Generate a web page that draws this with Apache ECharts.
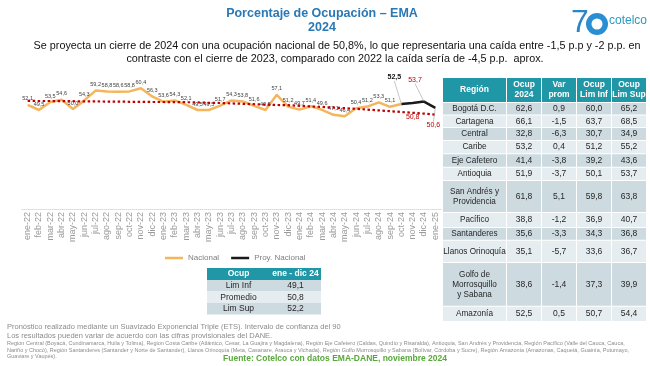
<!DOCTYPE html>
<html><head><meta charset="utf-8">
<script src="https://cdn.jsdelivr.net/npm/echarts@6/dist/echarts.min.js"></script>
<style>html,body{margin:0;padding:0;background:#fff}#c{width:650px;height:366px}</style>
</head><body><div id="c"></div>
<script>
// ---- data ----
const months = ['ene-22','feb-22','mar-22','abr-22','may-22','jun-22','jul-22','ago-22','sep-22','oct-22','nov-22','dic-22',
  'ene-23','feb-23','mar-23','abr-23','may-23','jun-23','jul-23','ago-23','sep-23','oct-23','nov-23','dic-23',
  'ene-24','feb-24','mar-24','abr-24','may-24','jun-24','jul-24','ago-24','sep-24','oct-24','nov-24','dic-24','ene-25'];
const nacional = [52.1,49.5,53.5,54.6,50.0,54.3,59.2,58.8,58.6,58.8,60.4,56.3,
  53.6,54.3,52.1,49.5,49.5,51.7,54.3,53.8,51.6,49.5,57.1,51.2,
  49.7,51.4,49.6,47.1,46.4,50.4,51.2,53.3,51.1,52.5];
const proyMonths = ['oct-24','nov-24','dic-24','ene-25'];
const proyNacional = [52.5,53.0,53.7,50.6];
const tendencia = [54.1,54.0,54.0,53.9,53.9,53.8,53.8,53.7,53.7,53.6,53.6,53.5,
  53.5,53.4,53.4,53.3,53.1,53.0,52.8,52.6,52.4,52.2,52.0,51.9,
  51.6,51.3,51.0,50.7,50.4,50.1,49.7,49.3,48.9,48.5,48.1,47.7,47.2];

const regiones = ['Bogotá D.C.','Cartagena','Central','Caribe','Eje Cafetero','Antioquia','San Andrés y\nProvidencia',
  'Pacífico','Santanderes','Llanos Orinoquía','Golfo de\nMorrosquillo\ny Sabana','Amazonía'];
const ocup2024 = [62.6,66.1,32.8,53.2,41.4,51.9,61.8,38.8,35.6,35.1,38.6,52.5];
const varProm  = [0.9,-1.5,-6.3,0.4,-3.8,-3.7,5.1,-1.2,-3.3,-5.7,-1.4,0.5];
const limInf   = [60.0,63.7,30.7,51.2,39.2,50.1,59.8,36.9,34.3,33.6,37.3,50.7];
const limSup   = [65.2,68.5,34.9,55.2,43.6,53.7,63.8,40.7,36.8,36.7,39.9,54.4];
const tablaHeader = ['Región','Ocup\n2024','Var\nprom','Ocup\nLim Inf','Ocup\nLim Sup'];

const resumenHeader = ['Ocup','ene - dic 24'];
const resumenEtiquetas = ['Lim Inf','Promedio','Lim Sup'];
const resumenValores = [49.1,50.8,52.2];

// ---- helpers ----
const fmt = v => v.toFixed(1).replace('.', ',');
const FF = "'Liberation Sans', Arial, sans-serif";
const TEAL = '#1f97a7', DARK = '#cddbe1', LIGHT = '#e6edf0';

const graphics = [];
function txt(x, y, text, o) {
  o = o || {};
  graphics.push({type:'text', x:x, y:y, z:10, style:{text:text, fontFamily:o.ff||FF, fontSize:o.size||8,
    fontWeight:o.bold?'bold':'normal', fill:o.color||'#262626', textAlign:o.align||'center',
    textVerticalAlign:'middle', lineHeight:o.lh||(o.size||8)+2}});
}
function rect(x, y, w, h, c) {
  graphics.push({type:'rect', shape:{x:x, y:y, width:w, height:h}, style:{fill:c}, z:5});
}

// titles
txt(322, 14, 'Porcentaje de Ocupación – EMA', {size:12.5, bold:true, color:'#2a78b4'});
txt(322, 28, '2024', {size:12.5, bold:true, color:'#2a78b4'});
txt(337, 46, 'Se proyecta un cierre de 2024 con una ocupación nacional de 50,8%, lo que representaria una caída entre -1,5 p.p y -2 p.p. en', {size:10.8, color:'#111'});
txt(335, 59, 'contraste con el cierre de 2023, comparado con 2022 la caída sería de -4,5 p.p.  aprox.', {size:10.8, color:'#111'});

// logo
txt(580, 23, '7', {size:32, color:'#2a86c8'});
graphics.push({type:'circle', shape:{cx:597, cy:24, r:11}, style:{fill:'#2a8fd2'}, z:5});
graphics.push({type:'circle', shape:{cx:597, cy:24, r:5.5}, style:{fill:'#ffffff'}, z:6});
txt(609, 21, 'cotelco', {size:12, color:'#2a9bc2', align:'left'});

// region table
const colX = [443, 507, 542, 577, 612, 647];
const rowY = [78, 103, 115.5, 128, 141, 154.3, 167.7, 181, 213, 228, 240.7, 263, 306.7, 322];
for (let c = 0; c < 5; c++) {
  rect(colX[c], rowY[0], colX[c+1]-colX[c]-1, rowY[1]-rowY[0]-1, TEAL);
  txt((colX[c]+colX[c+1]-1)/2, (rowY[0]+rowY[1]-1)/2, tablaHeader[c], {bold:true, color:'#fff', size:8.5, lh:10});
}
const cols = [regiones, ocup2024, varProm, limInf, limSup];
for (let r = 0; r < regiones.length; r++) {
  const y0 = rowY[r+1], y1 = rowY[r+2];
  const bg = r % 2 === 0 ? DARK : LIGHT;
  for (let c = 0; c < 5; c++) {
    rect(colX[c], y0, colX[c+1]-colX[c]-1, y1-y0-1, bg);
    const v = cols[c][r];
    txt((colX[c]+colX[c+1]-1)/2, (y0+y1-1)/2, c === 0 ? v : fmt(v), {size: c === 0 ? 8.2 : 8.5, lh:10});
  }
}

// summary table
const sX = [207, 270, 321];
const sY = [268, 280, 291.5, 303, 314.5];
for (let c = 0; c < 2; c++) {
  rect(sX[c], sY[0], sX[c+1]-sX[c], sY[1]-sY[0], TEAL);
  txt((sX[c]+sX[c+1])/2, (sY[0]+sY[1])/2, resumenHeader[c], {bold:true, color:'#fff', size:8.5});
}
for (let r = 0; r < 3; r++) {
  const bg = r % 2 === 0 ? DARK : LIGHT;
  rect(sX[0], sY[r+1], sX[2]-sX[0], sY[r+2]-sY[r+1], bg);
  txt((sX[0]+sX[1])/2, (sY[r+1]+sY[r+2])/2, resumenEtiquetas[r], {size:8.5});
  txt((sX[1]+sX[2])/2, (sY[r+1]+sY[r+2])/2, fmt(resumenValores[r]), {size:8.5});
}

// footnotes
txt(7, 327, 'Pronóstico realizado mediante un Suavizado Exponencial Triple (ETS). Intervalo de confianza del 90', {size:7.5, color:'#8c8c8c', align:'left'});
txt(7, 336, 'Los resultados pueden variar de acuerdo con las cifras provisionales del DANE.', {size:7.5, color:'#8c8c8c', align:'left'});
txt(7, 343.5, 'Region Central (Boyacá, Cundinamarca, Huila y Tolima), Region Costa Caribe (Atlántico, Cesar, La Guajira y Magdalena), Región Eje Cafetero (Caldas, Quindío y Risaralda), Antioquia, San Andrés y Providencia, Región Pacífico (Valle del Cauca, Cauca,', {size:5.5, color:'#8c8c8c', align:'left'});
txt(7, 350, 'Nariño y Chocó), Región Santanderes (Santander y Norte de Santander), Llanos Orinoquía (Meta, Casanare, Arauca y Vichada), Región Golfo Morrosquillo y Sabana (Bolívar, Córdoba y Sucre), Región Amazonía (Amazonas, Caquetá, Guainía, Putumayo,', {size:5.5, color:'#8c8c8c', align:'left'});
txt(7, 356.5, 'Guaviare y Vaupés).', {size:5.5, color:'#8c8c8c', align:'left'});
txt(335, 359, 'Fuente: Cotelco con datos EMA-DANE, noviembre 2024', {size:8.5, bold:true, color:'#5aa83c'});

// ---- series data ----
const nacData = months.map((m, i) => {
  if (i >= nacional.length) return null;
  return (i === nacional.length - 1) ? {value: nacional[i], label:{show:false}} : nacional[i];
});
const proyLabelShift = {'oct-24':[-7,-21,'#111','bold'], 'dic-24':[-9,-16,'#c00000','normal'], 'ene-25':[-2,23,'#c00000','normal']};
const proyData = months.map(m => {
  const k = proyMonths.indexOf(m);
  if (k < 0) return null;
  const s = proyLabelShift[m];
  if (!s) return {value:proyNacional[k], label:{show:false}};
  return {value:proyNacional[k], label:{color:s[2], fontWeight:s[3]}};
});
const idxPromedio = months.indexOf('nov-24');
const tendData = tendencia.map((v, i) => i === idxPromedio ? v : {value:v, label:{show:false}});

const chart = echarts.init(document.getElementById('c'), null, {renderer:'canvas'});
chart.setOption({
  animation:false,
  textStyle:{fontFamily:FF},
  grid:{left:22, width:419, top:69, height:140, containLabel:false},
  legend:{data:['Nacional','Proy. Nacional'], left:160, top:249, icon:'rect', itemWidth:18, itemHeight:2.5, itemGap:12,
    textStyle:{fontSize:8, color:'#7f7f7f'}},
  xAxis:{type:'category', data:months, boundaryGap:true,
    axisLine:{lineStyle:{color:'#d9d9d9', type:'dotted'}}, axisTick:{show:false},
    axisLabel:{rotate:90, interval:0, fontSize:9, color:'#9a9a9a', margin:3}},
  yAxis:{type:'value', min:0, max:70, show:false, splitLine:{show:false}},
  series:[
    {name:'Nacional', type:'line', data:nacData, symbol:'circle', symbolSize:0.01, showSymbol:true,
      lineStyle:{color:'#f4b65c', width:2.5}, itemStyle:{color:'#f4b65c'},
      label:{show:true, position:'top', distance:3, fontSize:5.5, color:'#404040', formatter:p => fmt(p.value)}, z:2},
    {name:'Proy. Nacional', type:'line', data:proyData, symbol:'circle', symbolSize:0.01, showSymbol:true,
      lineStyle:{color:'#1a1a1a', width:2.5}, itemStyle:{color:'#1a1a1a'},
      label:{show:true, position:'top', distance:2, fontSize:7, formatter:p => fmt(p.value)},
      labelLayout: p => {
        const s = proyLabelShift[months[p.dataIndex]];
        return s ? {dx:s[0], dy:s[1]} : {};
      },
      labelLine:{show:true, lineStyle:{color:'#a0a0a0', width:0.6}},
      z:4},
    {name:'Tendencia', type:'line', data:tendData, symbol:'circle', symbolSize:0.01, showSymbol:true, silent:true,
      lineStyle:{color:'#c00000', width:2.2, type:[2.5,2.5]}, itemStyle:{color:'#c00000'},
      label:{show:true, position:'bottom', distance:1, fontSize:7, color:'#c00000',
        formatter:() => fmt(resumenValores[1])}, z:3}
  ],
  graphic:graphics
});
</script></body></html>
